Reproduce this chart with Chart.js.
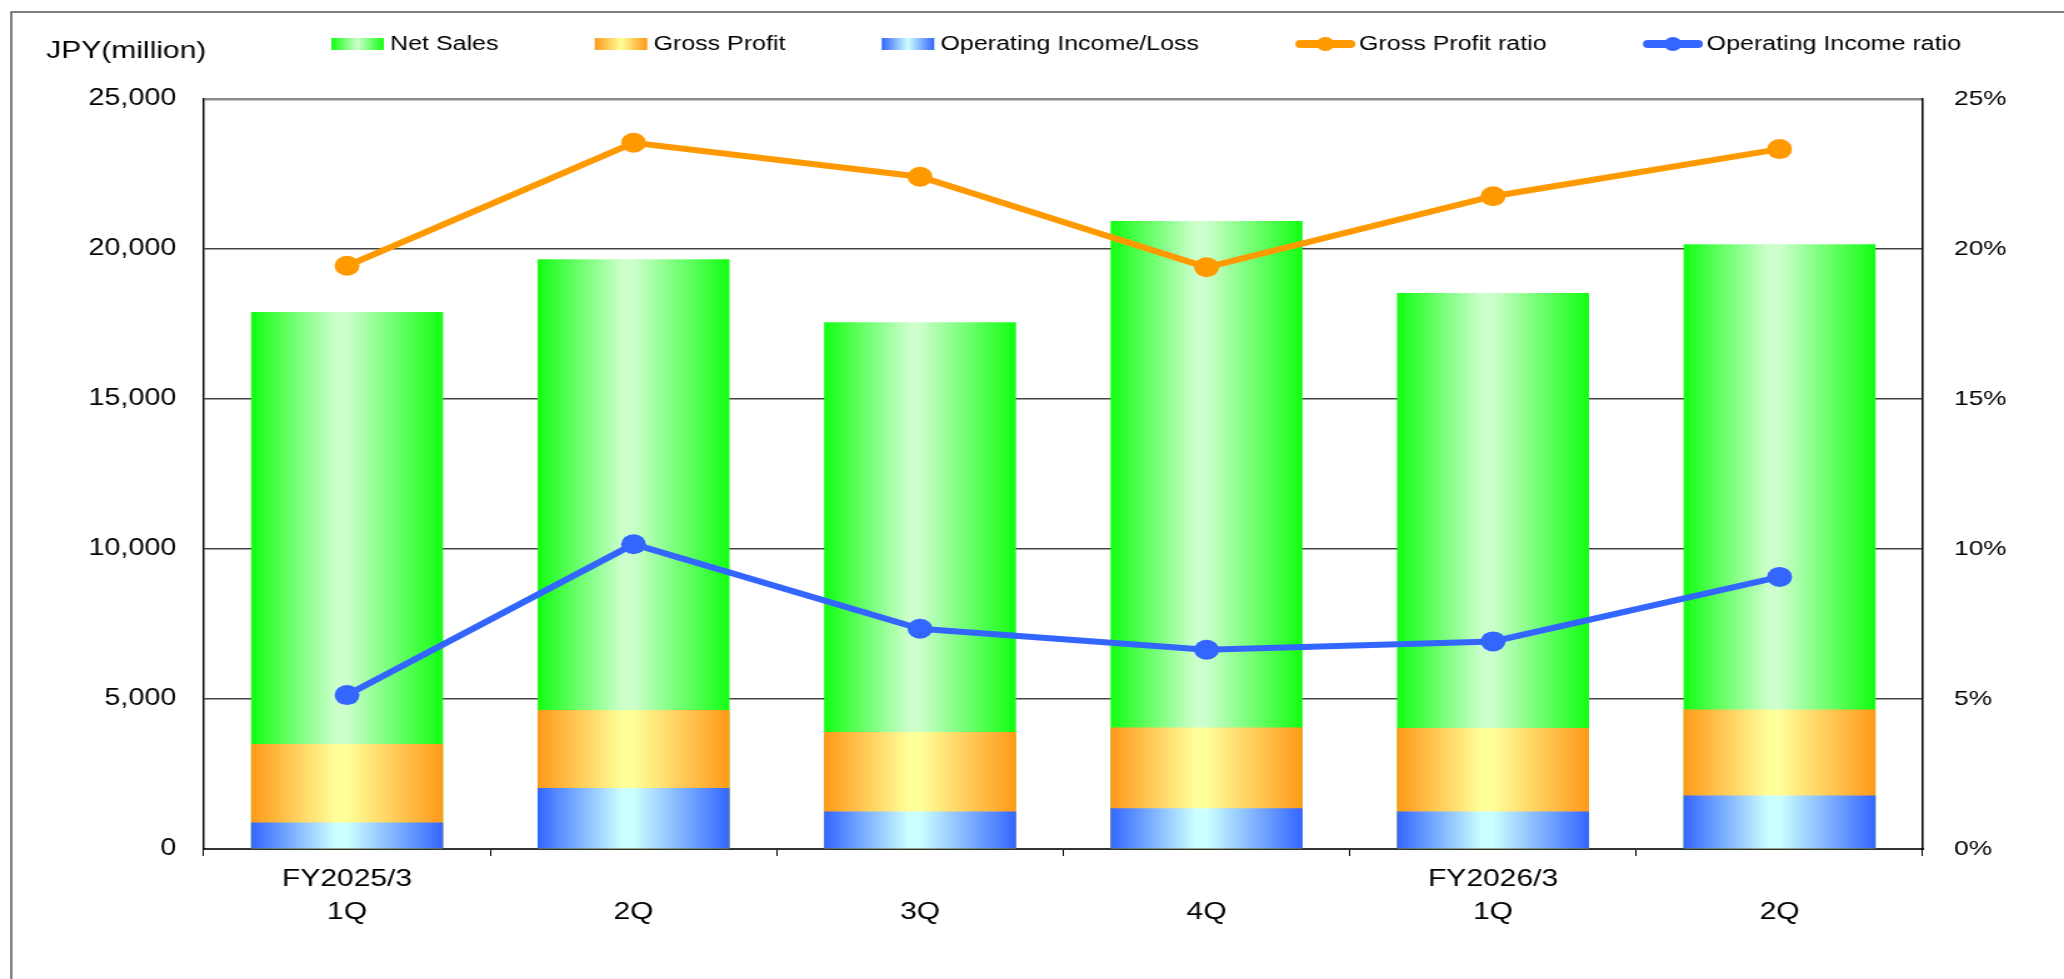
<!DOCTYPE html>
<html>
<head>
<meta charset="utf-8">
<title>Quarterly Results</title>
<script src="https://cdn.jsdelivr.net/npm/chart.js@4.4.1/dist/chart.umd.min.js"></script>
<style>
    html, body { margin: 0; padding: 0; background: #fff; overflow: hidden; }
    /* chart is drawn narrow and widened, like the pasted Excel chart */
    #frame { position: absolute; left: 0; top: 0; width: 1651px; height: 979px; transform: scaleX(1.2502); transform-origin: 0 0; }
</style>
</head>
<body>
<div id="frame"><canvas id="quarterly"></canvas></div>
<script>
var quarters = [["FY2025/3", "1Q"], ["", "2Q"], ["", "3Q"], ["", "4Q"], ["FY2026/3", "1Q"], ["", "2Q"]];
var seriesNames = ["Net Sales", "Gross Profit", "Operating Income/Loss", "Gross Profit ratio", "Operating Income ratio"];

// JPY million
var netSales = [17900, 19660, 17560, 20930, 18530, 20160];
var grossProfit = [3500, 4630, 3900, 4050, 4030, 4650];
var operatingIncome = [880, 2030, 1250, 1360, 1250, 1780];

// percent
var grossProfitRatio = [19.44, 23.54, 22.41, 19.39, 21.76, 23.33];
var operatingIncomeRatio = [5.13, 10.16, 7.34, 6.64, 6.92, 9.07];

var amountTicks = [0, 5000, 10000, 15000, 20000, 25000];
var ratioTicks = [0, 5, 10, 15, 20, 25];

var BAR_PCT = 0.67;
var FONT = "'Liberation Sans', Arial, sans-serif";

var salesChart = {
    // horizontal edge-light-edge fill for one bar
    barFill: function (edge, middle) {
        return function (ctx) {
            var chart = ctx.chart;
            if (ctx.type !== "data" || !chart.chartArea) {
                return edge;
            }
            var x = chart.scales.x;
            var w = (x.width / quarters.length) * BAR_PCT;
            var cx = x.getPixelForValue(ctx.dataIndex);
            var g = chart.ctx.createLinearGradient(cx - w / 2, 0, cx + w / 2, 0);
            g.addColorStop(0, edge);
            g.addColorStop(0.44, middle);
            g.addColorStop(0.5, middle);
            g.addColorStop(1, edge);
            return g;
        };
    },

    // outer frame, unit label and legend row
    decor: {
        id: "decor",
        beforeDraw: function (chart) {
            var c = chart.ctx;
            c.save();
            c.strokeStyle = "#555";
            c.lineWidth = 1.5;
            c.beginPath();
            c.moveTo(9, chart.height);
            c.lineTo(9, 12);
            c.lineTo(chart.width, 12);
            c.stroke();
            c.restore();
        },
        afterDraw: function (chart) {
            var c = chart.ctx;
            c.save();
            c.fillStyle = "#000";
            c.textBaseline = "middle";
            c.font = "24px " + FONT;
            c.fillText("JPY(million)", 37, 51);

            c.font = "20px " + FONT;
            var x = 265, y = 44;
            chart.data.datasets.forEach(function (ds) {
                var sw;
                if (ds.type === "line") {
                    sw = 48;
                    c.strokeStyle = ds.borderColor;
                    c.lineWidth = 8;
                    c.lineCap = "round";
                    c.beginPath();
                    c.moveTo(x + 4, y);
                    c.lineTo(x + sw - 4, y);
                    c.stroke();
                    c.fillStyle = ds.borderColor;
                    c.beginPath();
                    c.arc(x + sw / 2, y, 7, 0, Math.PI * 2);
                    c.fill();
                    x += sw + 3;
                } else {
                    sw = 42;
                    var g = c.createLinearGradient(x, 0, x + sw, 0);
                    g.addColorStop(0, ds.edgeColor);
                    g.addColorStop(0.5, ds.middleColor);
                    g.addColorStop(1, ds.edgeColor);
                    c.fillStyle = g;
                    c.fillRect(x, y - 6, sw, 12);
                    x += sw + 5;
                }
                c.fillStyle = "#000";
                c.fillText(ds.label, x, y);
                x += c.measureText(ds.label).width + 77;
            });
            c.restore();
        }
    },

    ChartData: function (canvas) {
        var tickFont = { family: FONT, size: 23 };
        return new Chart(canvas, {
            data: {
                labels: quarters,
                datasets: [
                    {
                        type: "bar",
                        label: seriesNames[0],
                        data: netSales,
                        grouped: false,
                        order: 3,
                        edgeColor: "#12ff12",
                        middleColor: "#ccffcc",
                        backgroundColor: salesChart.barFill("#12ff12", "#ccffcc"),
                        barPercentage: BAR_PCT,
                        categoryPercentage: 1,
                        yAxisID: "y",
                    },
                    {
                        type: "bar",
                        label: seriesNames[1],
                        data: grossProfit,
                        grouped: false,
                        order: 2,
                        edgeColor: "#ff9919",
                        middleColor: "#ffff99",
                        backgroundColor: salesChart.barFill("#ff9919", "#ffff99"),
                        barPercentage: BAR_PCT,
                        categoryPercentage: 1,
                        yAxisID: "y",
                    },
                    {
                        type: "bar",
                        label: seriesNames[2],
                        data: operatingIncome,
                        grouped: false,
                        order: 1,
                        edgeColor: "#3366ff",
                        middleColor: "#ccffff",
                        backgroundColor: salesChart.barFill("#3366ff", "#ccffff"),
                        barPercentage: BAR_PCT,
                        categoryPercentage: 1,
                        yAxisID: "y",
                    },
                    {
                        type: "line",
                        label: seriesNames[3],
                        data: grossProfitRatio,
                        order: 0,
                        borderColor: "#ff9900",
                        backgroundColor: "#ff9900",
                        borderWidth: 6,
                        pointRadius: 10,
                        pointBorderWidth: 0,
                        tension: 0,
                        yAxisID: "y1",
                    },
                    {
                        type: "line",
                        label: seriesNames[4],
                        data: operatingIncomeRatio,
                        order: 0,
                        borderColor: "#3366ff",
                        backgroundColor: "#3366ff",
                        borderWidth: 6,
                        pointRadius: 10,
                        pointBorderWidth: 0,
                        tension: 0,
                        yAxisID: "y1",
                    },
                ],
            },
            options: {
                responsive: true,
                maintainAspectRatio: false,
                animation: false,
                layout: { padding: { top: 99 } },
                plugins: {
                    legend: { display: false },
                    tooltip: { enabled: false },
                },
                scales: {
                    x: {
                        offset: true,
                        grid: { offset: true, drawOnChartArea: false, tickLength: 7, color: "#000", lineWidth: 1 },
                        border: { color: "#333", width: 2 },
                        ticks: {
                            color: "#000",
                            font: { family: FONT, size: 24, lineHeight: 1.38 },
                            padding: 7,
                            maxRotation: 0,
                            autoSkip: false,
                        },
                        afterFit: function (s) { s.height = 130; },
                    },
                    y: {
                        position: "left",
                        min: amountTicks[0],
                        max: amountTicks[amountTicks.length - 1],
                        ticks: {
                            stepSize: amountTicks[1] - amountTicks[0],
                            color: "#000",
                            font: tickFont,
                            padding: 22,
                            callback: function (v) { return v.toLocaleString("en-US"); },
                        },
                        grid: {
                            drawTicks: false,
                            color: function (ctx) { return ctx.tick.value === amountTicks[amountTicks.length - 1] ? "#8c8c8c" : "#454545"; },
                            lineWidth: function (ctx) { return ctx.tick.value === amountTicks[amountTicks.length - 1] ? 2.5 : 1.5; },
                        },
                        border: { color: "#000", width: 1.5 },
                        afterFit: function (s) { s.width = 163; },
                    },
                    y1: {
                        position: "right",
                        min: ratioTicks[0],
                        max: ratioTicks[ratioTicks.length - 1],
                        ticks: {
                            stepSize: ratioTicks[1] - ratioTicks[0],
                            color: "#000",
                            font: { family: FONT, size: 21 },
                            padding: 25,
                            callback: function (v) { return v + "%"; },
                        },
                        grid: { drawOnChartArea: false, drawTicks: false },
                        border: { color: "#000", width: 1.5 },
                        afterFit: function (s) { s.width = 113; },
                    },
                },
            },
            plugins: [salesChart.decor],
        });
    },
};

salesChart.ChartData(document.getElementById("quarterly"));
</script>
</body>
</html>
